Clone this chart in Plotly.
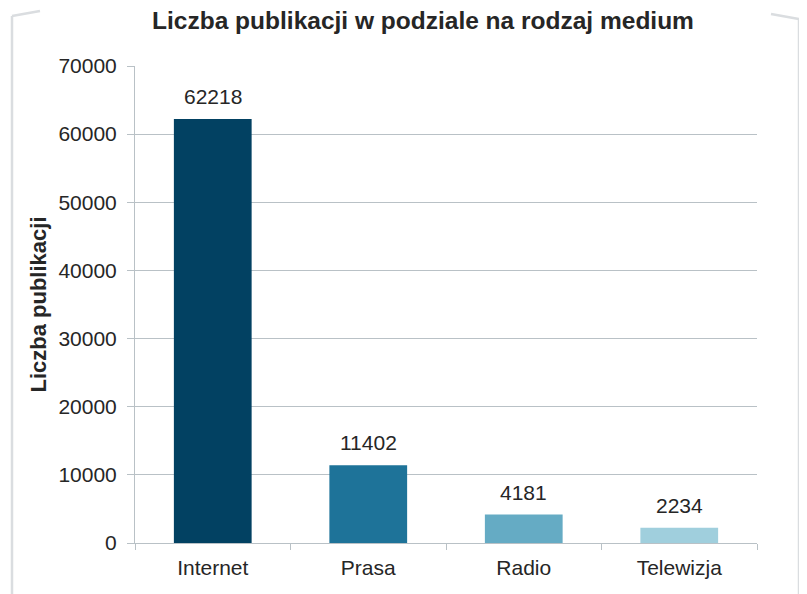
import plotly.graph_objects as go

categories = ["Internet", "Prasa", "Radio", "Telewizja"]
values = [62218, 11402, 4181, 2234]
bar_colors = ["#024162", "#1e7399", "#65abc4", "#a0cfdd"]
title_text = "Liczba publikacji w podziale na rodzaj medium"
y_title = "Liczba publikacji"
y_ticks = [0, 10000, 20000, 30000, 40000, 50000, 60000, 70000]

FONT = "Liberation Sans, Arial, sans-serif"
TXT = "#262626"
GRID = "#b9c1c6"
FRAME = "#dadde0"

fig = go.Figure()
fig.add_trace(go.Bar(
    x=categories, y=values, marker=dict(color=bar_colors, line=dict(width=0)),
    width=0.5, showlegend=False, hoverinfo="x+y",
))
for c, v in zip(categories, values):
    fig.add_annotation(x=c, y=v, text=str(v), showarrow=False, yanchor="bottom",
                       yshift=9, font=dict(family=FONT, size=21, color=TXT))

# light frame around chart (paper coordinates relative to plot area)
PW, PH = 622.0, 477.0
def px(x):
    return (x - 135) / PW
def py(y):
    return (543 - y) / PH

frame_lines = [
    (12, 600, 12, 16),
    (12, 16, 40, 11),
    (799, 600, 799, 19),
    (799, 19, 771, 14),
]
for x0, y0, x1, y1 in frame_lines:
    fig.add_shape(type="line", xref="paper", yref="paper",
                  x0=px(x0), y0=py(y0), x1=px(x1), y1=py(y1),
                  line=dict(color=FRAME, width=2.5))

fig.update_layout(
    width=807, height=594,
    paper_bgcolor="white", plot_bgcolor="white",
    margin=dict(l=127, r=58, t=58, b=59),
    font=dict(family=FONT, size=21, color=TXT),
    title=dict(text="<b>" + title_text + "</b>", x=415/807, xanchor="center",
               y=1, yanchor="top", pad=dict(t=4),
               font=dict(family=FONT, size=24.5, color=TXT)),
    xaxis=dict(showgrid=False, showline=True, linecolor=GRID, linewidth=1,
               ticks="outside", tickson="boundaries", ticklen=6, tickcolor=GRID,
               tickfont=dict(size=21), ticklabelstandoff=6, fixedrange=True),
    yaxis=dict(range=[0, 70000], tickvals=y_ticks, tickformat="d", showgrid=True,
               gridcolor=GRID, gridwidth=1, showline=True, linecolor=GRID,
               ticks="outside", ticklen=7, tickcolor=GRID, tickfont=dict(size=21),
               ticklabelstandoff=6, zeroline=False,
               title=dict(text="<b>" + y_title + "</b>", standoff=5,
                          font=dict(size=22)), fixedrange=True),
)
fig.write_html("out.html")
